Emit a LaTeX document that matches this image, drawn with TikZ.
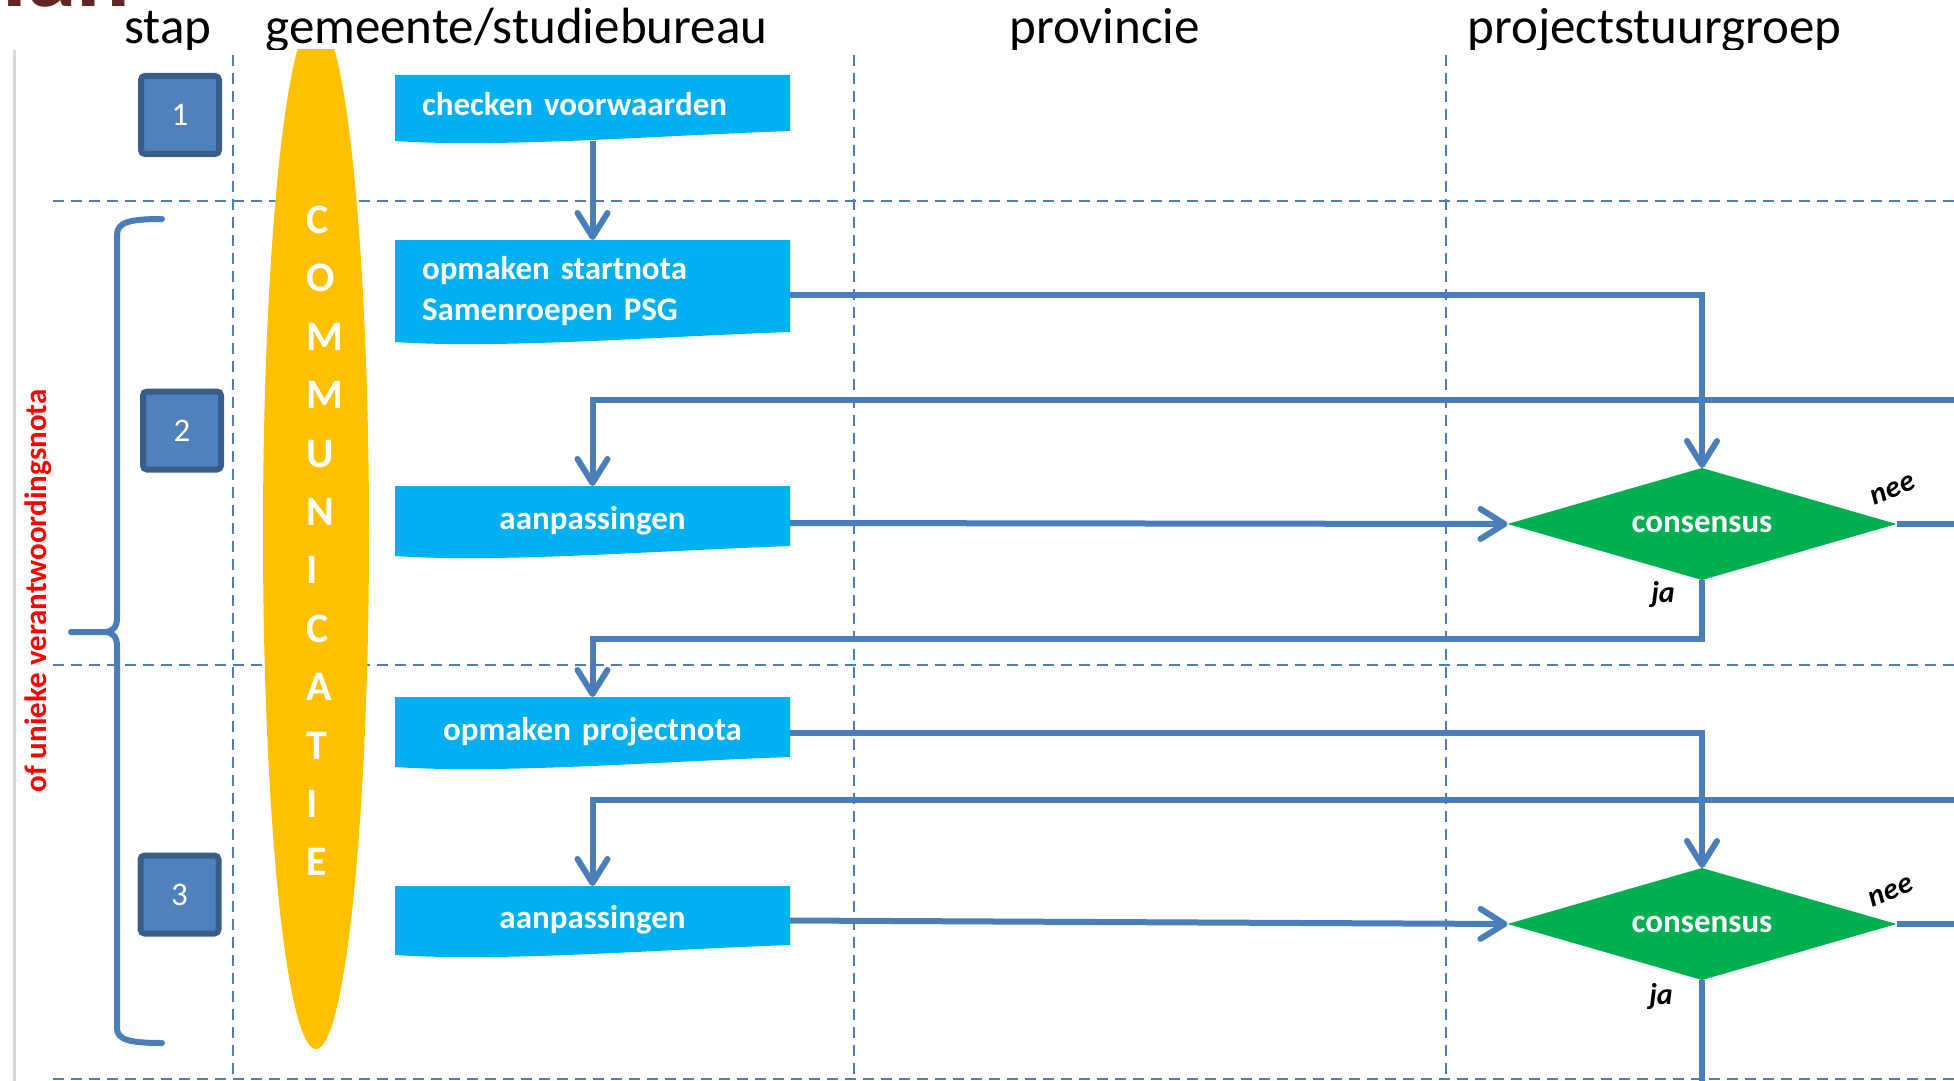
\documentclass[tikz,border=0pt]{standalone}
\usepackage{fontspec}
\setmainfont{Carlito}
\usetikzlibrary{arrows.meta,shapes.geometric,calc,backgrounds}
\definecolor{lblue}{HTML}{00B0F0}
\definecolor{dgreen}{HTML}{00B050}
\definecolor{orng}{HTML}{FFC000}
\definecolor{lineblue}{HTML}{4A7EBB}
\definecolor{stepfill}{HTML}{4F81BD}
\definecolor{stepborder}{HTML}{385D8A}
\definecolor{maroon}{HTML}{632523}
\definecolor{lgray}{HTML}{D9D9D9}
\begin{document}
\begin{tikzpicture}[x=0.5pt,y=-0.5pt,
  conn/.style={draw=lineblue, line width=3pt},
  arr/.style={conn, -{Straight Barb[length=12pt,width=15pt,round]}},
  dsh/.style={draw=lineblue, line width=1.2pt, dash pattern=on 5.5pt off 3.5pt},
  stepbox/.style={draw=stepborder, fill=stepfill, line width=3pt, rounded corners=2pt,
    minimum width=39pt, minimum height=39pt, inner sep=0pt, text=white,
    font=\fontsize{16.5}{18}\selectfont},
  wbox/.style={inner xsep=13.5pt, inner ysep=0pt, outer sep=0pt, text width=170.5pt,
    text=white, font=\fontsize{16.5}{20.5}\selectfont\bfseries},
  hdr/.style={anchor=base west, inner sep=0pt, font=\fontsize{25.5}{28}\selectfont},
  dec/.style={diamond, aspect=3.47, fill=dgreen, inner sep=0pt, outer sep=0pt,
    minimum width=194.5pt, minimum height=56pt},
  dectext/.style={inner sep=0pt, text=white, font=\fontsize{16.5}{18}\selectfont\bfseries},
  lab/.style={inner sep=0pt, font=\fontsize{15}{17}\selectfont\bfseries\itshape},
  commletter/.style={anchor=base west, inner sep=0pt, text=white,
    font=\fontsize{21}{24}\selectfont\bfseries}
]
\useasboundingbox (0,0) rectangle (1954,1081);

% title remnant and headers (cut at y=50)
\begin{scope}
  \clip (0,0) rectangle (1954,50);
  \node[anchor=base west, inner sep=0pt, text=maroon, font=\fontsize{50}{55}\selectfont\bfseries] (title) at (2,7) {lan};
  \node[hdr] (hstap) at (124,44) {stap};
  \node[hdr] (hgem) at (265,44) {gemeente/studiebureau};
  \node[hdr] (hprov) at (1009,44) {provincie};
  \node[hdr] (hpsg) at (1467,44) {projectstuurgroep};
\end{scope}

% left gray rule
\draw[lgray, line width=1.5pt] (14.5,50) -- (14.5,1081);

% lane separators
\draw[dsh] (233,55) -- (233,1081);
\draw[dsh] (854,55) -- (854,1081);
\draw[dsh] (1446,55) -- (1446,1081);
\draw[dsh] (53,201) -- (1954,201);
\draw[dsh] (53,665) -- (1954,665);
\draw[dsh] (53,1079) -- (1954,1079);

% communicatie ellipse
\begin{scope}
  \clip (0,50) rectangle (1954,1081);
  \fill[orng] (316,533) ellipse [x radius=53, y radius=516];
\end{scope}
\foreach \l [count=\i] in {C,O,M,M,U,N,I,C,A,T,I,E}
  \node[commletter] (comm\i) at (306,{233.5+58.4*(\i-1)}) {\l};

% brace
\draw[lineblue, line width=3pt, line cap=round]
  (162,219) .. controls (130,219) and (117,222) .. (117,235) -- (117,618)
  .. controls (117,627) and (113,632) .. (104,632) -- (71,632);
\draw[lineblue, line width=3pt, line cap=round]
  (104,632) .. controls (113,632) and (117,637) .. (117,646) -- (117,1028)
  .. controls (117,1040) and (130,1043) .. (162,1043);

% vertical red note
\node[rotate=90, inner sep=0pt, text=red, font=\fontsize{15.5}{17}\selectfont\bfseries] (note) at (38,591) {of unieke verantwoordingsnota};

% step boxes
\node[stepbox] (s1) at (180,115) {1};
\node[stepbox] (s2) at (182,430.5) {2};
\node[stepbox] (s3) at (179.5,894.5) {3};

% process boxes
\node[wbox, align=left, minimum height=33pt, text height=11.5pt, text depth=3.5pt] (b1) at (592.5,108) {checken voorwaarden};
\node[wbox, align=left, minimum height=51pt] (b2) at (592.5,291) {opmaken startnota\\Samenroepen PSG};
\node[wbox, align=center, minimum height=35pt, text height=11.5pt, text depth=3.5pt] (b3) at (592.5,521) {aanpassingen};
\node[wbox, align=center, minimum height=35pt, text height=11.5pt, text depth=3.5pt] (b4) at (592.5,732) {opmaken projectnota};
\node[wbox, align=center, minimum height=34.5pt, text height=11.5pt, text depth=3.5pt] (b5) at (592.5,920.5) {aanpassingen};
\begin{pgfonlayer}{background}
  \foreach \n in {b1,b2,b3,b4,b5}
    \fill[lblue] (\n.north west) -- (\n.north east) -- ($(\n.south east)+(0,-10)$)
      .. controls ($(\n.south east)+(-140,-5)$) and ($(\n.south west)+(105,7)$) .. (\n.south west) -- cycle;
\end{pgfonlayer}

% decisions
\node[dec] (d1) at (1702,524) {};
\node[dectext] (d1t) at (1702,524) {consensus};
\node[dec] (d2) at (1702,924) {};
\node[dectext] (d2t) at (1702,924) {consensus};
\node[lab, rotate=22] (nee1) at (1893,490) {nee};
\node[lab] (ja1) at (1663,595) {ja};
\node[lab, rotate=22] (nee2) at (1891,892) {nee};
\node[lab] (ja2) at (1661,996) {ja};

% loose ends at the right and bottom edges
\coordinate (r1) at (1954,400);
\coordinate (n1) at (1954,524);
\coordinate (r2) at (1954,800);
\coordinate (n2) at (1954,924);
\coordinate (bot) at (1702,1081);

% connectors
\draw[arr] (b1.south) -- (b2.north);
\draw[arr] ($(b2.east)+(0,4)$) -| (d1.north);
\draw[arr] (r1) -| (b3.north);
\draw[arr] ($(b3.east)+(0,2)$) -- (d1.west);
\draw[conn] (d1.east) -- (n1);
\draw[arr] (d1.south) -- ($(d1.south)+(0,59)$) -| (b4.north);
\draw[arr] ($(b4.east)+(0,1)$) -| (d2.north);
\draw[arr] (r2) -| (b5.north);
\draw[arr] (b5.east) -- (d2.west);
\draw[conn] (d2.east) -- (n2);
\draw[conn] (d2.south) -- (bot);
\end{tikzpicture}
\end{document}
